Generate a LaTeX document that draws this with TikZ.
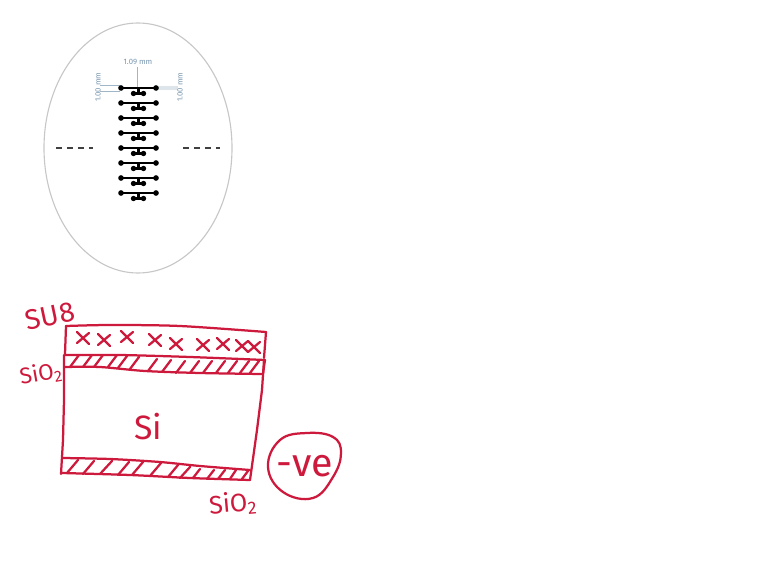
\documentclass[tikz,border=0pt]{standalone}
\usepackage{fontspec}
\setmainfont{Fira Sans}
\definecolor{penred}{RGB}{205,25,60}
\definecolor{dimblue}{RGB}{120,150,175}
\tikzset{
	pen/.style={penred,line width=1.6pt,line cap=round,line join=round},
	inkline/.style={pen,smooth,tension=0.5},
	handlabel/.style={penred,inner sep=0pt},
	dimlabel/.style={dimblue,inner sep=0pt,font=\fontsize{5.5}{6}\selectfont},
	dimline/.style={dimblue!70,line width=0.6pt},
	barline/.style={black,line width=2pt}
}
\begin{document}
\begin{tikzpicture}[x=0.025cm,y=-0.025cm,line join=round]
			\useasboundingbox (0,0) rectangle (768,577);
			
			% Outline of the wafer
			\draw[black!22,line width=0.8pt] (138,148) ellipse [x radius=94,y radius=125];
			
			% Dashed marks
			\draw[black!75,line width=1.6pt,dash pattern=on 4.2pt off 3.6pt] (56,148)--(93,148);
			\draw[black!75,line width=1.6pt,dash pattern=on 4.2pt off 3.6pt] (183,148)--(220,148);
			
			% Dimensions
			\draw[dimline] (137.5,67)--(137.5,87);
			\draw[dimline] (100,85)--(120,85);
			\draw[dimline] (100,91)--(120,91);
			\fill[dimblue!25] (157,86) rectangle (178,90);
			\node[dimlabel] (widthtop) at (138,62) {1.09 mm};
			\node[dimlabel,rotate=90] (heightleft) at (98,87) {1.00 mm};
			\node[dimlabel,rotate=90] (heightright) at (180,87) {1.00 mm};
			
			% Row of bars
			\foreach \y in {88,103,...,193} {
				\draw[barline] (121,\y)--(156,\y);
				\fill (121,\y) circle (2pt);
				\fill (156,\y) circle (2pt);
				\draw[barline] (138.5,\y)--(138.5,\y+5);
				\draw[barline] (133,\y+5.5)--(144,\y+5.5);
				\fill (133.5,\y+5.5) circle (1.9pt);
				\fill (143.5,\y+5.5) circle (1.9pt);
			}
			
			% Top layer SU8
			\draw[inkline] plot coordinates {(66,326) (110,325) (180,326) (266,332)};
			\draw[pen] (66,326)--(65,354);
			\draw[pen] (266,332)--(264,358);
			\foreach \x/\y in {83/338,104/340,127/337,155/340,176/344,203/345,223/344,242/346,254/347} {
				\draw[pen] (\x-6,\y-6)--(\x+6,\y+6);
				\draw[pen] (\x-6,\y+5)--(\x+6,\y-5);
			}
			
			% Oxide layer under SU8
			\draw[inkline] plot coordinates {(65,355) (120,355) (190,357) (265,360)};
			\draw[inkline] plot coordinates {(65,367) (100,367) (145,371) (200,373) (262,374)};
			\draw[pen] (265,360)--(263,374);
			\foreach \x/\y in {70/367,83/367,94/367,108/367,118/368,130/369,148/371,162/372,176/373,190/373,203/373,216/373,228/373,240/373,250/373} {
				\draw[pen] (\x,\y)--++(9,-12);
			}
			
			% Silicon walls
			\draw[pen] (64,355)--(64,400)--(63,440)--(61,474);
			\draw[pen] (264,360)--(262,390)--(257,430)--(250,480);
			
			% Oxide layer at the bottom
			\draw[inkline] plot coordinates {(62,458) (110,459) (160,462) (200,466) (250,470)};
			\draw[inkline] plot coordinates {(62,473) (130,475) (190,478) (250,480)};
			\foreach \x/\y/\dx/\dy in {67/473/11/-13,83/474/11/-13,100/474/12/-13,118/475/11/-13,132/475/11/-13,150/476/11/-13,168/477/10/-12,180/478/10/-11,193/478/7/-9,207/479/7/-9,218/479/7/-9,230/479/6/-9,242/479/6/-8} {
				\draw[pen] (\x,\y)--++(\dx,\dy);
			}
			
			% Circle round the charge
			\draw[pen] plot[smooth cycle,tension=0.7] coordinates {(268,467) (280,440) (307,433) (333,437) (341,453) (333,477) (313,498) (283,492)};
			
			% Labels
			\node[handlabel,rotate=12,font=\fontsize{20}{20}\selectfont] (SUlabel) at (50,316) {SU8};
			\node[handlabel,rotate=10,font=\fontsize{16}{16}\selectfont] (oxidetop) at (41,374) {SiO\textsubscript{2}};
			\node[handlabel,font=\fontsize{24}{24}\selectfont] (Silabel) at (148,427) {Si};
			\node[handlabel,rotate=5,font=\fontsize{18}{18}\selectfont] (oxidebottom) at (233,504) {SiO\textsubscript{2}};
			\node[handlabel,font=\fontsize{28}{28}\selectfont] (chargelabel) at (305,466) {-ve};
		\end{tikzpicture}
\end{document}
